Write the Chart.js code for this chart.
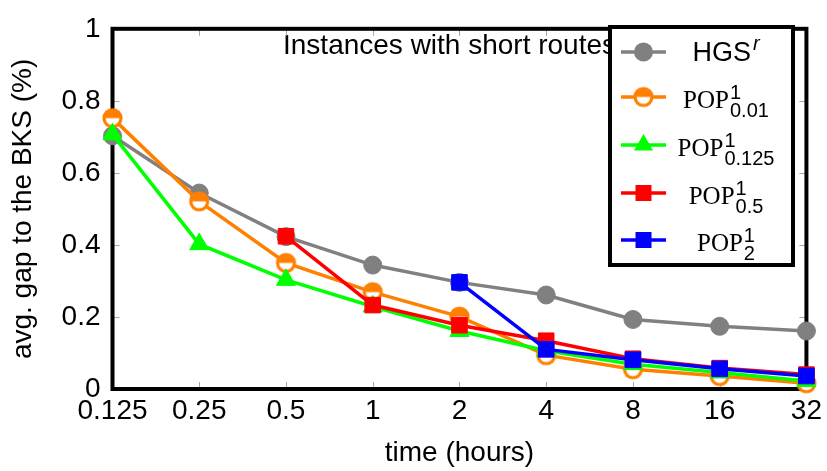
<!DOCTYPE html>
<html><head><meta charset="utf-8">
<script src="https://cdn.jsdelivr.net/npm/chart.js@4"></script>
<style>html,body{margin:0;padding:0;background:#fff}#wrap{width:827px;height:471px}</style>
</head><body><div id="wrap"><canvas id="c" width="827" height="471"></canvas></div>
<script>
// ---- data ----
const categories = ['0.125','0.25','0.5','1','2','4','8','16','32'];
const yTickValues = [0, 0.2, 0.4, 0.6, 0.8, 1];
const yTickLabels = ['0','0.2','0.4','0.6','0.8','1'];
const hgs     = [0.703, 0.544, 0.423, 0.344, 0.296, 0.261, 0.193, 0.174, 0.161];
const pop001  = [0.752, 0.521, 0.350, 0.269, 0.201, 0.094, 0.055, 0.036, 0.016];
const pop0125 = [0.707, 0.402, 0.303, 0.229, 0.161, 0.106, 0.069, 0.046, 0.022];
const pop05   = [null, null, 0.424, 0.233, 0.177, 0.134, 0.084, 0.058, 0.040];
const pop2    = [null, null, null, null, 0.296, 0.110, 0.081, 0.056, 0.036];
const titleText = 'Instances with short routes';
const xTitle = 'time (hours)';
const yTitle = 'avg. gap to the BKS (%)';
const legendItems = [
  {main:'HGS', sup:'r', sub:null},
  {main:'POP', sup:'1', sub:'0.01'},
  {main:'POP', sup:'1', sub:'0.125'},
  {main:'POP', sup:'1', sub:'0.5'},
  {main:'POP', sup:'1', sub:'2'}
];

const GRAY='#808080', ORANGE='#ff8000', GREEN='#00ff00', RED='#ff0000', BLUE='#0000ff';
const SANS = '"Liberation Sans", Arial, sans-serif';
const TT = '"Liberation Serif", "DejaVu Serif", serif';

function halfCircle(r, color, lw){
  const s = Math.ceil(2*r + lw + 2);
  const c = document.createElement('canvas'); c.width = s; c.height = s;
  const g = c.getContext('2d'); const cx = s/2, cy = s/2;
  g.fillStyle = '#fff'; g.beginPath(); g.arc(cx,cy,r,0,2*Math.PI); g.fill();
  g.fillStyle = color; g.beginPath(); g.arc(cx,cy,r,Math.PI,2*Math.PI); g.closePath(); g.fill();
  g.strokeStyle = color; g.lineWidth = lw; g.beginPath(); g.arc(cx,cy,r,0,2*Math.PI); g.stroke();
  return c;
}
const orangeMark = halfCircle(8.5, ORANGE, 3.2);

function ds(label, data, color, style, radius, order){
  return {label, data, borderColor: color, backgroundColor: color, borderWidth: 3.5,
    pointStyle: style, pointRadius: radius, pointBorderWidth: 1, pointBorderColor: color,
    pointBackgroundColor: color, tension: 0, spanGaps: false, clip: false, order};
}

function drawMarker(ctx, type, x, y){
  ctx.save();
  if (type === 'hgs'){ ctx.fillStyle = GRAY; ctx.beginPath(); ctx.arc(x,y,9.5,0,2*Math.PI); ctx.fill(); }
  else if (type === 'orange'){ ctx.drawImage(orangeMark, x - orangeMark.width/2, y - orangeMark.height/2); }
  else if (type === 'green'){ const r=11; ctx.fillStyle=GREEN; ctx.beginPath();
    ctx.moveTo(x, y - r); ctx.lineTo(x + r*Math.sqrt(3)/2, y + r/2); ctx.lineTo(x - r*Math.sqrt(3)/2, y + r/2); ctx.closePath(); ctx.fill(); }
  else { const s = 8; ctx.fillStyle = type === 'red' ? RED : BLUE; ctx.fillRect(x - s, y - s, 2*s, 2*s); }
  ctx.restore();
}

const framePlugin = {
  id: 'frame',
  beforeDatasetsDraw(chart){
    const {ctx, chartArea: a, scales: {x, y}} = chart;
    ctx.save();
    ctx.fillStyle = '#000'; ctx.font = '28px ' + SANS; ctx.textAlign = 'left'; ctx.textBaseline = 'alphabetic';
    ctx.fillText(titleText, 283, 54);
    ctx.strokeStyle = '#a6a6a6'; ctx.lineWidth = 1; const L = 7;
    categories.forEach((c, i) => {
      const px = Math.round(x.getPixelForValue(i)) + 0.5;
      ctx.beginPath(); ctx.moveTo(px, a.bottom); ctx.lineTo(px, a.bottom - L);
      ctx.moveTo(px, a.top); ctx.lineTo(px, a.top + L); ctx.stroke();
    });
    yTickValues.forEach(v => {
      const py = Math.round(y.getPixelForValue(v)) + 0.5;
      ctx.beginPath(); ctx.moveTo(a.left, py); ctx.lineTo(a.left + L, py);
      ctx.moveTo(a.right, py); ctx.lineTo(a.right - L, py); ctx.stroke();
    });
    ctx.strokeStyle = '#000'; ctx.lineWidth = 4;
    ctx.strokeRect(a.left, a.top, a.right - a.left, a.bottom - a.top);
    ctx.restore();
  },
  afterDatasetsDraw(chart){
    const {ctx} = chart;
    ctx.save();
    const bx = 610, by = 27, bw = 183, bh = 238;
    ctx.fillStyle = '#fff'; ctx.fillRect(bx, by, bw, bh);
    ctx.strokeStyle = '#000'; ctx.lineWidth = 4; ctx.strokeRect(bx, by, bw, bh);
    const rows = [52, 97, 145, 193, 240];
    const colors = [GRAY, ORANGE, GREEN, RED, BLUE];
    const types = ['hgs','orange','green','red','blue'];
    const cxText = 726;
    legendItems.forEach((it, i) => {
      const ry = rows[i];
      ctx.strokeStyle = colors[i]; ctx.lineWidth = 3.5;
      ctx.beginPath(); ctx.moveTo(621, ry); ctx.lineTo(666, ry); ctx.stroke();
      drawMarker(ctx, types[i], 643.5, ry);
      ctx.fillStyle = '#000'; ctx.textAlign = 'left'; ctx.textBaseline = 'alphabetic';
      if (i === 0){
        ctx.font = '27px ' + SANS; const w1 = ctx.measureText(it.main).width;
        ctx.font = 'italic 20px ' + SANS; const w2 = ctx.measureText(it.sup).width;
        const x0 = cxText - (w1 + 2 + w2)/2;
        ctx.font = '27px ' + SANS; ctx.fillText(it.main, x0, 61);
        ctx.font = 'italic 20px ' + SANS; ctx.fillText(it.sup, x0 + w1 + 2, 50);
      } else {
        const base = ry + 11;
        ctx.font = '25px ' + TT; const w1 = ctx.measureText(it.main).width;
        ctx.font = '20px ' + SANS; const ws = ctx.measureText(it.sup).width; const wb = ctx.measureText(it.sub).width;
        const w = w1 + 1 + Math.max(ws, wb);
        const x0 = cxText - w/2;
        ctx.font = '25px ' + TT; ctx.fillText(it.main, x0, base);
        ctx.font = '20px ' + SANS;
        ctx.fillText(it.sup, x0 + w1 + 1, base - 9);
        ctx.fillText(it.sub, x0 + w1 + 1, base + 9);
      }
    });
    ctx.restore();
  }
};

new Chart(document.getElementById('c'), {
  type: 'line',
  data: {
    labels: categories,
    datasets: [
      ds('HGS^r', hgs, GRAY, 'circle', 9, 5),
      ds('POP 0.01', pop001, ORANGE, orangeMark, 9, 4),
      ds('POP 0.125', pop0125, GREEN, 'triangle', 11, 3),
      ds('POP 0.5', pop05, RED, 'rect', 11, 2),
      ds('POP 2', pop2, BLUE, 'rect', 11, 1)
    ]
  },
  options: {
    responsive: false, animation: false, devicePixelRatio: 1,
    layout: {padding: {top: 18, right: 17, left: 0, bottom: 0}},
    plugins: {legend: {display: false}, tooltip: {enabled: false}, title: {display: false}},
    events: [],
    scales: {
      x: {
        type: 'category', offset: false,
        grid: {display: false, drawTicks: false}, border: {display: false},
        ticks: {color: '#000', font: {family: SANS, size: 28}, padding: 5, maxRotation: 0, autoSkip: false},
        title: {display: true, text: xTitle, color: '#000', font: {family: SANS, size: 28}, padding: {top: 0, bottom: 1}},
        afterFit(s){ s.height = 82; }
      },
      y: {
        type: 'linear', min: 0, max: 1,
        grid: {display: false, drawTicks: false}, border: {display: false},
        afterBuildTicks(s){ s.ticks = yTickValues.map(v => ({value: v})); },
        ticks: {color: '#000', font: {family: SANS, size: 28}, padding: 12,
          callback: (v) => { const k = yTickValues.findIndex(t => Math.abs(t - v) < 1e-9); return k >= 0 ? yTickLabels[k] : ''; }},
        title: {display: true, text: yTitle, color: '#000', font: {family: SANS, size: 28}, padding: {top: 6, bottom: 0}},
        afterFit(s){ s.width = 112.5; }
      }
    }
  },
  plugins: [framePlugin]
});
</script>
</body></html>
